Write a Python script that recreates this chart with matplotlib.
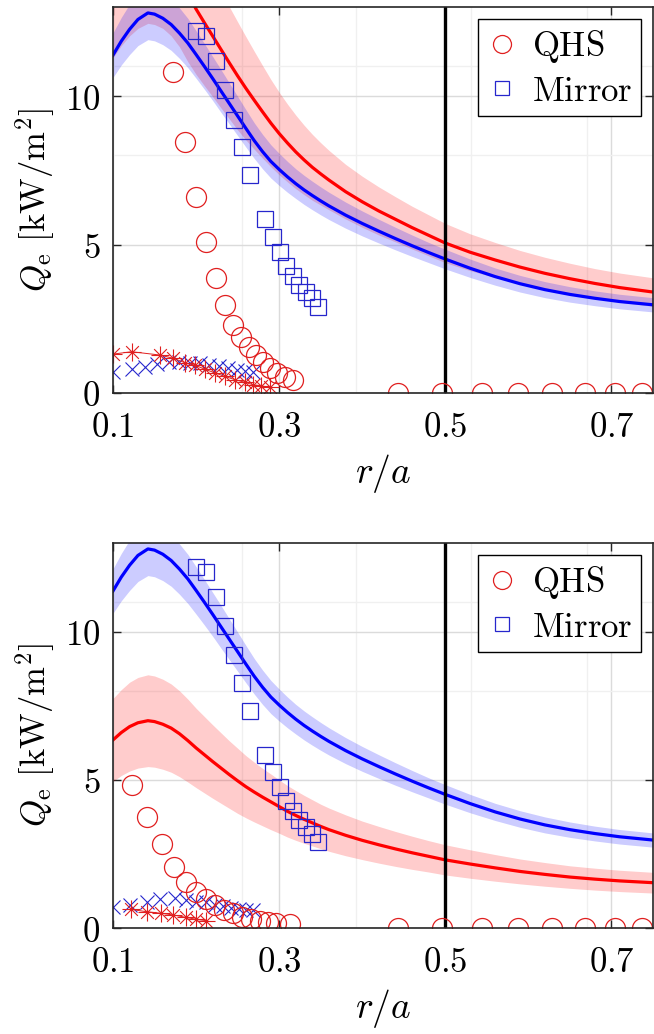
import numpy as np
import matplotlib
matplotlib.use("Agg")
import matplotlib.pyplot as plt
from matplotlib.path import Path
from matplotlib.ticker import FixedLocator, FixedFormatter

plt.rcParams['mathtext.fontset'] = 'cm'
plt.rcParams['font.family'] = ['DejaVu Serif']

# ---------------- data ----------------
r_model = [0.10, 0.11, 0.12, 0.13, 0.142, 0.15, 0.16, 0.17, 0.18, 0.19,
           0.20, 0.21, 0.22, 0.23, 0.24, 0.25, 0.26, 0.27, 0.28, 0.29,
           0.30, 0.31, 0.32, 0.33, 0.34, 0.35, 0.36, 0.38, 0.40, 0.42,
           0.44, 0.46, 0.48, 0.50, 0.53, 0.56, 0.59, 0.62, 0.65, 0.68,
           0.71, 0.75]
mirror_model = [11.38, 11.85, 12.25, 12.58, 12.80, 12.76, 12.62, 12.41, 12.12, 11.79,
                11.40, 11.00, 10.59, 10.17, 9.75, 9.33, 8.91, 8.50, 8.13, 7.80,
                7.53, 7.28, 7.05, 6.84, 6.65, 6.47, 6.30, 5.99, 5.71, 5.45,
                5.20, 4.96, 4.73, 4.51, 4.20, 3.92, 3.68, 3.48, 3.32, 3.19,
                3.08, 2.97]
mirror_err = [0.75, 0.80, 0.85, 0.88, 0.90, 0.90, 0.89, 0.87, 0.85, 0.83,
              0.80, 0.77, 0.74, 0.72, 0.69, 0.66, 0.63, 0.60, 0.58, 0.56,
              0.54, 0.52, 0.50, 0.49, 0.48, 0.47, 0.46, 0.44, 0.42, 0.40,
              0.38, 0.36, 0.34, 0.33, 0.31, 0.29, 0.28, 0.27, 0.26, 0.25,
              0.245, 0.24]
qhs_model_top = [13.60, 14.10, 14.50, 14.80, 15.00, 14.95, 14.80, 14.50, 14.05, 13.45,
                 12.93, 12.47, 12.02, 11.57, 11.12, 10.68, 10.26, 9.86, 9.47, 9.09,
                 8.74, 8.42, 8.12, 7.85, 7.60, 7.38, 7.17, 6.78, 6.44, 6.13,
                 5.85, 5.57, 5.31, 5.05, 4.74, 4.48, 4.24, 4.03, 3.85, 3.69,
                 3.55, 3.40]
qhs_err_top = [2.31, 2.40, 2.47, 2.52, 2.55, 2.54, 2.52, 2.47, 2.39, 2.29,
               2.20, 2.12, 2.04, 1.97, 1.89, 1.82, 1.74, 1.65, 1.56, 1.47,
               1.39, 1.31, 1.24, 1.17, 1.11, 1.05, 1.00, 0.92, 0.86, 0.81,
               0.76, 0.72, 0.69, 0.66, 0.62, 0.59, 0.56, 0.54, 0.52, 0.50,
               0.49, 0.48]
qhs_model_bot = [6.35, 6.60, 6.80, 6.93, 7.00, 6.97, 6.88, 6.75, 6.56, 6.33,
                 6.08, 5.85, 5.62, 5.40, 5.18, 4.97, 4.77, 4.59, 4.42, 4.26,
                 4.10, 3.94, 3.80, 3.67, 3.55, 3.43, 3.32, 3.13, 2.96, 2.81,
                 2.67, 2.54, 2.42, 2.30, 2.16, 2.03, 1.91, 1.81, 1.72, 1.65,
                 1.59, 1.53]
qhs_err_bot = [1.40, 1.45, 1.50, 1.53, 1.55, 1.54, 1.52, 1.49, 1.45, 1.40,
               1.34, 1.29, 1.24, 1.19, 1.14, 1.10, 1.05, 1.01, 0.97, 0.94,
               0.90, 0.87, 0.84, 0.81, 0.78, 0.75, 0.73, 0.69, 0.65, 0.62,
               0.59, 0.56, 0.53, 0.51, 0.48, 0.45, 0.42, 0.40, 0.38, 0.37,
               0.36, 0.35]

# QHS experimental (circles)
qhs_r_top = [0.1725, 0.1868, 0.2005, 0.2125, 0.2245, 0.2350, 0.2446, 0.2546, 0.2637,
             0.2726, 0.2806, 0.2886, 0.2974, 0.3066, 0.3166]
qhs_q_top = [10.82, 8.46, 6.61, 5.09, 3.86, 2.98, 2.29, 1.90, 1.56,
             1.28, 1.05, 0.83, 0.66, 0.55, 0.44]
qhs_r_bot = [0.1224, 0.1405, 0.1585, 0.1735, 0.1877, 0.1995, 0.2117, 0.2225, 0.2333,
             0.2445, 0.2558, 0.2666, 0.2766, 0.2866, 0.2966, 0.3126]
qhs_q_bot = [4.83, 3.76, 2.84, 2.05, 1.56, 1.20, 0.97, 0.78, 0.61,
             0.50, 0.38, 0.29, 0.24, 0.19, 0.16, 0.14]
qhs_r_edge = [0.4427, 0.496, 0.544, 0.588, 0.628, 0.668, 0.704, 0.737, 0.768]
qhs_q_edge = [0, 0, 0, 0, 0, 0, 0, 0, 0]

# Mirror experimental (squares), same in both panels
mir_r = [0.2005, 0.2125, 0.2245, 0.2354, 0.2453, 0.2553, 0.2654, 0.2834, 0.2926,
         0.3006, 0.3086, 0.3166, 0.3238, 0.3327, 0.3394, 0.3466]
mir_q = [12.20, 12.02, 11.19, 10.20, 9.21, 8.27, 7.34, 5.85, 5.26,
         4.76, 4.28, 3.94, 3.64, 3.41, 3.19, 2.91]

# small-flux points: red asterisks (QHS) and blue crosses (Mirror)
ast_r_top = [0.100, 0.1224, 0.156, 0.1725, 0.1865, 0.1985, 0.2105, 0.2225, 0.2345,
             0.2466, 0.2586, 0.2685, 0.2786, 0.2886]
ast_q_top = [1.31, 1.39, 1.28, 1.17, 1.02, 0.94, 0.80, 0.68, 0.56,
             0.45, 0.36, 0.28, 0.24, 0.19]
ast_r_bot = [0.1212, 0.1405, 0.1573, 0.1725, 0.1877, 0.2005, 0.2117]
ast_q_bot = [0.63, 0.55, 0.50, 0.44, 0.36, 0.29, 0.25]
x_r_top = [0.100, 0.1224, 0.138, 0.153, 0.167, 0.180, 0.193, 0.205, 0.216,
           0.227, 0.238, 0.249, 0.259, 0.269]
x_q_top = [0.72, 0.80, 0.89, 0.98, 1.03, 1.05, 1.02, 1.00, 0.95,
           0.90, 0.84, 0.79, 0.75, 0.71]
x_r_bot = [0.100, 0.121, 0.1405, 0.157, 0.1745, 0.188, 0.2005, 0.2117, 0.2225,
           0.232, 0.2426, 0.2515, 0.2605, 0.268]
x_q_bot = [0.72, 0.78, 0.89, 0.97, 1.00, 0.95, 0.89, 0.87, 0.78,
           0.75, 0.66, 0.63, 0.61, 0.60]

xticks = [0.1, 0.3, 0.5, 0.7]
xticklabels = ['0.1', '0.3', '0.5', '0.7']
yticks = [0, 5, 10]
yticklabels = ['0', '5', '10']
faint_x = [0.255, 0.393, 0.531, 0.670]
faint_y = [8.0, 11.0]

# ---------------- style ----------------
RED = (1.0, 0.0, 0.0)
BLUE = (0.0, 0.0, 1.0)
MRED = (0.88, 0.12, 0.12)
MBLUE = (0.15, 0.15, 0.80)
FS = 25

ast_path = Path([(-1, 0), (1, 0), (0, -1), (0, 1),
                 (-0.707, -0.707), (0.707, 0.707), (-0.707, 0.707), (0.707, -0.707)],
                [Path.MOVETO, Path.LINETO] * 4)

fig = plt.figure(figsize=(6.54, 10.34), dpi=100)
ax_top = fig.add_axes([113 / 654, (1034 - 393) / 1034, 540 / 654, 386 / 1034])
ax_bot = fig.add_axes([113 / 654, (1034 - 928) / 1034, 540 / 654, 385 / 1034])


def draw(ax, qhs_model, qhs_err, qhs_r, qhs_q, ast_r, ast_q, x_r, x_q):
    r = np.array(r_model)
    qm = np.array(qhs_model); qe = np.array(qhs_err)
    mm = np.array(mirror_model); me = np.array(mirror_err)
    ax.fill_between(r, qm - qe, qm + qe, color=RED, alpha=0.2, lw=0, zorder=2)
    ax.fill_between(r, mm - me, mm + me, color=BLUE, alpha=0.2, lw=0, zorder=2)
    ax.plot(r, qm, color=RED, lw=2.3, zorder=3)
    ax.plot(r, mm, color=BLUE, lw=2.3, zorder=3)
    ax.axvline(0.5, color='black', lw=2.4, zorder=4)

    ax.plot(x_r, x_q, ls='none', marker='x', ms=10, mew=0.8, color=MBLUE, zorder=5)
    ax.plot(ast_r, ast_q, ls='-', lw=0.7, marker=ast_path, ms=13, mew=0.8,
            color=MRED, mfc='none', zorder=5)
    h1, = ax.plot(list(qhs_r) + qhs_r_edge, list(qhs_q) + qhs_q_edge, ls='none',
                  marker='o', ms=14.4, mew=0.9, mec=MRED, mfc='none', zorder=6)
    h2, = ax.plot(mir_r, mir_q, ls='none', marker='s', ms=11.5, mew=0.9,
                  mec=MBLUE, mfc='none', zorder=6)

    ax.set_xlim(0.1, 0.75)
    ax.set_ylim(0, 13)
    ax.xaxis.set_major_locator(FixedLocator(xticks))
    ax.xaxis.set_major_formatter(FixedFormatter(['$%s$' % t for t in xticklabels]))
    ax.yaxis.set_major_locator(FixedLocator(yticks))
    ax.yaxis.set_major_formatter(FixedFormatter(['$%s$' % t for t in yticklabels]))
    ax.xaxis.set_minor_locator(FixedLocator(faint_x))
    ax.yaxis.set_minor_locator(FixedLocator(faint_y))
    ax.tick_params(which='major', direction='in', length=6, width=1, top=True, right=True,
                   labelsize=FS, color='0.15')
    ax.tick_params(axis='x', which='major', pad=12)
    ax.tick_params(axis='y', which='major', pad=9)
    ax.tick_params(which='minor', length=0)
    ax.grid(True, which='major', color='0.86', lw=1.0, zorder=0)
    ax.grid(True, which='minor', color='0.94', lw=1.0, zorder=0)
    ax.set_axisbelow(True)
    for s in ax.spines.values():
        s.set_color('0.15')
        s.set_linewidth(1.2)
        s.set_zorder(7)
    ax.set_xlabel(r'$r/a$', fontsize=27, labelpad=6)
    ax.set_ylabel(r'$Q_\mathrm{e}\ [\mathrm{kW/m^2}]$', fontsize=FS, labelpad=6)
    leg = ax.legend([h1, h2], [r'$\mathrm{QHS}$', r'$\mathrm{Mirror}$'],
                    loc='upper right', fontsize=FS, frameon=True, fancybox=False,
                    edgecolor='black', framealpha=1, borderpad=0.25,
                    handlelength=0.9, handletextpad=0.4, labelspacing=0.25,
                    borderaxespad=0.35, markerscale=0.9)
    leg.get_frame().set_linewidth(1.0)
    leg.set_zorder(10)


draw(ax_top, qhs_model_top, qhs_err_top, qhs_r_top, qhs_q_top,
     ast_r_top, ast_q_top, x_r_top, x_q_top)
draw(ax_bot, qhs_model_bot, qhs_err_bot, qhs_r_bot, qhs_q_bot,
     ast_r_bot, ast_q_bot, x_r_bot, x_q_bot)

fig.savefig('out.png', dpi=100)
